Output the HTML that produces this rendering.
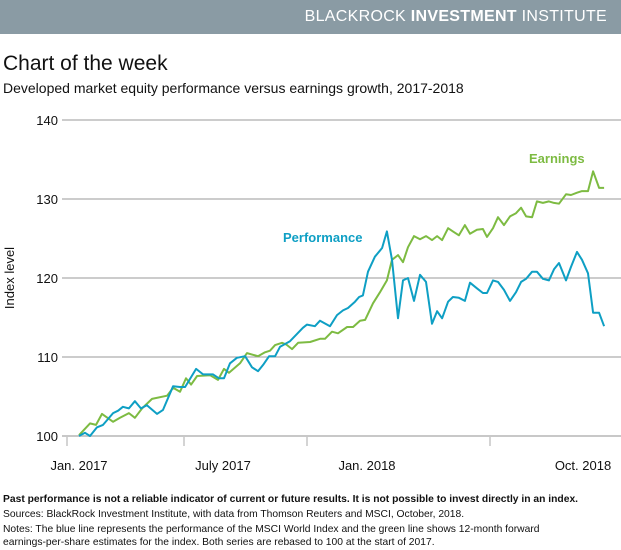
<!DOCTYPE html>
<html><head><meta charset="utf-8"><style>
body{margin:0;width:621px;height:550px;background:#fff;font-family:"Liberation Sans",sans-serif;overflow:hidden;position:relative}
.t{position:absolute;white-space:nowrap;color:#111}
</style></head><body>
<div style="position:absolute;left:0;top:0;width:621px;height:34px;background:#8a9ba4"></div>
<div class="t" style="right:14px;top:8px;color:#fff;font-size:16px;letter-spacing:0.3px">BLACKROCK <b style="font-weight:bold">INVESTMENT</b> INSTITUTE</div>
<div class="t" style="left:3px;top:52px;font-size:21px">Chart of the week</div>
<div class="t" style="left:3px;top:80px;font-size:14px">Developed market equity performance versus earnings growth, 2017-2018</div>
<svg id="c" width="621" height="550" style="position:absolute;left:0;top:0"></svg>
<div class="t" style="left:3px;top:494px;font-size:10.3px;font-weight:bold">Past performance is not a reliable indicator of current or future results. It is not possible to invest directly in an index.</div>
<div class="t" style="left:3px;top:509px;font-size:10.3px">Sources: BlackRock Investment Institute, with data from Thomson Reuters and MSCI, October, 2018.</div>
<div class="t" style="left:3px;top:524px;font-size:10.3px;line-height:12.5px">Notes: The blue line represents the performance of the MSCI World Index and the green line shows 12-month forward<br>earnings-per-share estimates for the index. Both series are rebased to 100 at the start of 2017.</div>
<script>
const yTicks=[100,110,120,130,140];
const xTickLabels=["Jan. 2017","July 2017","Jan. 2018","Oct. 2018"];
const xTickMonths=[0,6,12,21];
const perfT=[0,0.25,0.46,0.75,1.0,1.42,1.63,1.83,2.08,2.33,2.58,2.83,3.25,3.5,3.92,4.21,4.42,4.88,5.17,5.58,5.83,6.04,6.29,6.58,6.92,7.21,7.46,7.67,7.92,8.17,8.38,8.79,9.33,9.5,9.83,10.04,10.46,10.75,11.0,11.21,11.5,11.67,11.83,12.04,12.33,12.63,12.83,13.04,13.29,13.5,13.71,13.96,14.21,14.46,14.71,14.92,15.13,15.38,15.58,15.83,16.08,16.29,16.58,16.83,17.0,17.25,17.46,17.71,17.96,18.21,18.42,18.63,18.88,19.08,19.33,19.58,19.79,20.0,20.29,20.5,20.75,20.96,21.21,21.42,21.67,21.88];
const perfV=[100.0,100.4,100.0,101.1,101.4,102.9,103.2,103.7,103.5,104.4,103.5,103.9,102.8,103.3,106.3,106.2,106.2,108.5,107.8,107.8,107.3,107.3,109.2,109.9,110.1,108.7,108.2,109.0,110.1,110.1,111.3,112.0,113.7,114.1,113.9,114.6,113.9,115.3,115.9,116.2,117.0,117.6,117.8,120.8,122.7,123.8,125.9,122.3,114.9,119.7,120.0,117.1,120.4,119.5,114.2,115.8,114.9,117.0,117.6,117.5,117.1,119.4,118.7,118.1,118.1,119.7,119.5,118.5,117.1,118.2,119.5,119.9,120.8,120.8,119.9,119.7,121.1,121.9,119.7,121.4,123.3,122.3,120.6,115.6,115.6,113.9];
const earnT=[0,0.46,0.71,0.96,1.42,1.71,2.08,2.33,2.63,3.04,3.67,3.92,4.21,4.46,4.67,4.92,5.46,5.79,6.04,6.25,6.71,7.0,7.46,7.75,7.96,8.17,8.46,8.63,8.88,9.13,9.63,10.04,10.25,10.54,10.79,11.17,11.42,11.71,11.92,12.25,12.54,12.83,13.04,13.29,13.5,13.71,13.96,14.21,14.46,14.71,14.92,15.13,15.38,15.58,15.83,16.08,16.29,16.58,16.83,17.0,17.25,17.46,17.71,17.96,18.21,18.42,18.63,18.88,19.08,19.33,19.58,19.79,20.0,20.29,20.5,20.75,20.96,21.21,21.42,21.67,21.88];
const earnV=[100.1,101.6,101.4,102.8,101.8,102.3,102.9,102.3,103.5,104.7,105.1,106.1,105.6,107.3,106.5,107.6,107.7,107.1,108.5,108.0,109.2,110.5,110.1,110.6,110.8,111.5,111.8,111.6,111.0,111.8,111.9,112.3,112.3,113.2,113.0,113.8,113.8,114.6,114.7,116.8,118.2,119.7,122.3,122.9,122.0,123.9,125.3,124.9,125.3,124.8,125.3,124.8,126.3,125.9,125.4,126.7,125.6,126.1,126.2,125.2,126.3,127.7,126.7,127.8,128.2,128.9,127.8,127.7,129.7,129.5,129.7,129.5,129.4,130.6,130.5,130.8,131.0,131.0,133.5,131.4,131.4];
const NS="http://www.w3.org/2000/svg";
const svg=document.getElementById('c');
const xs=m=>79+m*24, ys=v=>436-(v-100)*7.9;
function mk(t,a){const e=document.createElementNS(NS,t);for(const k in a)e.setAttribute(k,a[k]);svg.appendChild(e);return e;}
yTicks.forEach(v=>{
 const g=mk('line',{x1:62,x2:621,y1:ys(v),y2:ys(v),stroke:v===100?'#c8c8c8':'#9a9a9a','stroke-width':v===100?2:1});
 
 
 const t=mk('text',{x:58,y:ys(v)+5,'text-anchor':'end','font-size':13,'font-family':'Liberation Sans, sans-serif',fill:'#111'});
 t.textContent=v;
 
 
});
const tickX=[67,184,307,490];
xTickLabels.forEach((l,i)=>{
 const tk=mk('line',{x1:tickX[i],x2:tickX[i],y1:437,y2:446,stroke:'#aaa','stroke-width':1});
 
 
 const t=mk('text',{x:xs(xTickMonths[i]),y:470,'text-anchor':'middle','font-size':13,'font-family':'Liberation Sans, sans-serif',fill:'#111'});
 t.textContent=l;
 
 
});
const yt=mk('text',{x:0,y:0,transform:'translate(14,278) rotate(-90)','text-anchor':'middle','font-size':13,'font-family':'Liberation Sans, sans-serif',fill:'#111'});
yt.textContent='Index level';


function line(T,V,col,name){
 const d=T.map((t,i)=>(i?'L':'M')+xs(t).toFixed(1)+' '+ys(V[i]).toFixed(1)).join(' ');
 const p=mk('path',{d:d,fill:'none',stroke:col,'stroke-width':2,'stroke-linejoin':'round'});
 
 
}
line(earnT,earnV,'#7dbb42','earnings-line');
line(perfT,perfV,'#0e9fc4','performance-line');
const l1=mk('text',{x:529,y:163,'font-size':13,'font-weight':'bold','font-family':'Liberation Sans, sans-serif',fill:'#7dbb42'});
l1.textContent='Earnings';


const l2=mk('text',{x:283,y:242,'font-size':13,'font-weight':'bold','font-family':'Liberation Sans, sans-serif',fill:'#0e9fc4'});
l2.textContent='Performance';


</script>
</body></html>
